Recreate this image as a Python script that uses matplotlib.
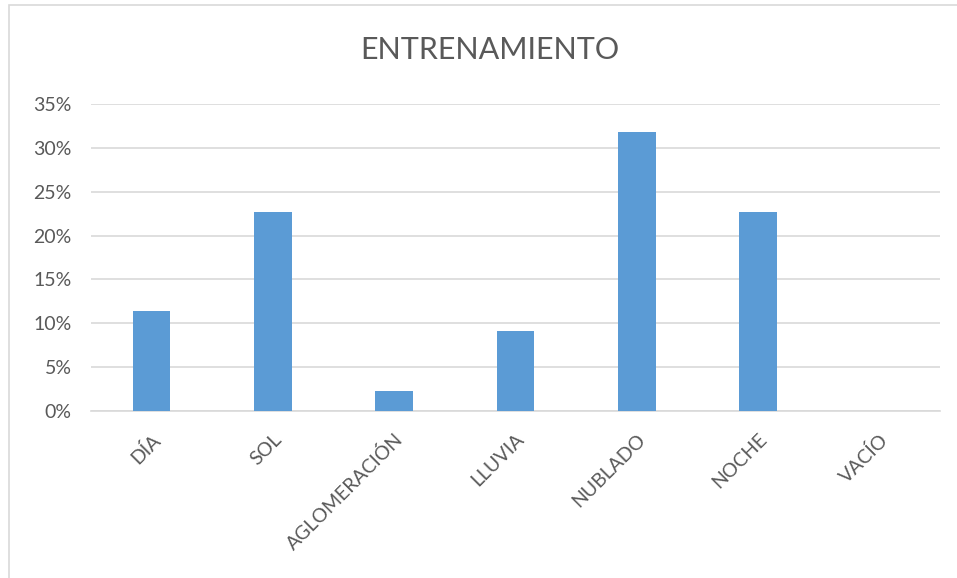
import matplotlib.pyplot as plt
from matplotlib.patches import Rectangle
from matplotlib.ticker import PercentFormatter

# Porcentaje de imágenes por condición
categorias = ['DÍA', 'SOL', 'AGLOMERACIÓN', 'LLUVIA', 'NUBLADO', 'NOCHE', 'VACÍO']
valores = [11.36, 22.73, 2.27, 9.09, 31.82, 22.73, 0.0]

plt.rcParams['font.family'] = ['Lato', 'DejaVu Sans']

fig = plt.figure(figsize=(9.57, 5.78), dpi=100)
ax = fig.add_axes([91 / 957, 1 - 411 / 578, 849 / 957, 307 / 578])

# Marco del gráfico
fig.patches.append(Rectangle((9 / 957, -0.1), 1.1, 1 - 5 / 578 + 0.1,
                             transform=fig.transFigure, fill=False,
                             edgecolor='#D9D9D9', linewidth=1.2))

x = range(len(categorias))
ax.bar(x, valores, width=0.31, color='#5B9BD5', zorder=3)

ax.set_xlim(-0.5, len(categorias) - 0.5)
ax.set_ylim(0, 35)
ax.set_yticks(range(0, 36, 5))
ax.yaxis.set_major_formatter(PercentFormatter(decimals=0))
ax.grid(axis='y', color='#D9D9D9', linewidth=1.2, zorder=0)

for s in ['top', 'right', 'left']:
    ax.spines[s].set_visible(False)
ax.spines['bottom'].set_color('#D9D9D9')
ax.spines['bottom'].set_linewidth(1.2)

ax.set_xticks(list(x))
ax.set_xticklabels(categorias, rotation=45, ha='right', rotation_mode='anchor')
ax.tick_params(axis='both', length=0, colors='#595959', labelsize=14)
ax.tick_params(axis='x', pad=14)
ax.tick_params(axis='y', pad=14)

fig.text(490 / 957, 1 - 50 / 578, 'ENTRENAMIENTO', ha='center', va='center',
         fontsize=22, color='#595959')

fig.savefig('out.png', dpi=100)
